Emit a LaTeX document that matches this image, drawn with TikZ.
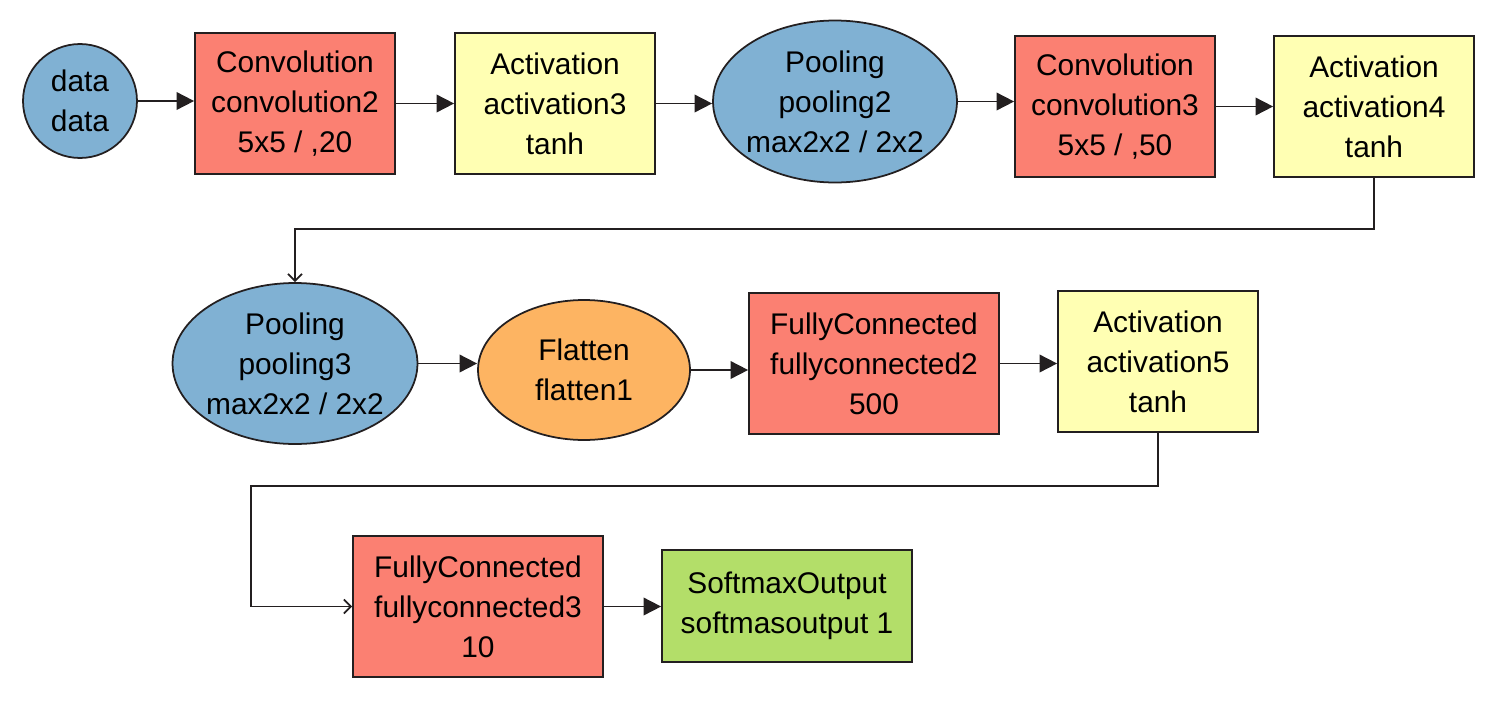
\documentclass[tikz,border=0pt]{standalone}
\usepackage{fontspec}
\setmainfont{Liberation Sans}
\usepackage{tikz}
\usetikzlibrary{shapes.geometric,arrows.meta}

\definecolor{convred}{HTML}{FB8072}
\definecolor{actyellow}{HTML}{FFFFB3}
\definecolor{poolblue}{HTML}{80B1D3}
\definecolor{flatorange}{HTML}{FDB462}
\definecolor{softgreen}{HTML}{B3DE69}
\definecolor{edgeblack}{HTML}{231F20}

\begin{document}
\begin{tikzpicture}[x=0.02cm,y=-0.02cm,
        layer/.style={draw=edgeblack,line width=1pt,align=center,inner sep=0pt,
            font=\fontsize{17}{22.7}\selectfont},
        convbox/.style={layer,shape=rectangle,fill=convred,minimum width=4.0cm,minimum height=2.82cm},
        actbox/.style={layer,shape=rectangle,fill=actyellow,minimum width=4.0cm,minimum height=2.82cm},
        poolnode/.style={layer,shape=ellipse,fill=poolblue,inner xsep=-10pt,minimum width=4.88cm,minimum height=3.24cm},
        flow/.style={draw=edgeblack,line width=1pt,-{Triangle[length=10pt,width=10pt]}},
        wrap/.style={draw=edgeblack,line width=1pt,-{Straight Barb[length=4pt,width=8pt]}}]

        \useasboundingbox (0,0) rectangle (1498,700);

        % first row
        \node[layer,shape=circle,fill=poolblue,minimum size=2.28cm] (data) at (80,101) {data\\data};
        \node[convbox] (conv2) at (295,103.5) {Convolution\\convolution2\\5x5 / ,20};
        \node[actbox] (act3) at (555,103.5) {Activation\\activation3\\tanh};
        \node[poolnode] (pool2) at (835,101.5) {Pooling\\pooling2\\max2x2 / 2x2};
        \node[convbox] (conv3) at (1115,106.5) {Convolution\\convolution3\\5x5 / ,50};
        \node[actbox] (act4) at (1374,106.5) {Activation\\activation4\\tanh};

        % second row
        \node[poolnode,minimum width=4.9cm,minimum height=3.22cm] (pool3) at (295,363.5) {Pooling\\pooling3\\max2x2 / 2x2};
        \node[layer,shape=ellipse,fill=flatorange,minimum width=4.24cm,minimum height=2.8cm] (flatten) at (584,370) {Flatten\\flatten1};
        \node[convbox,minimum width=5.0cm] (fc2) at (874,363.5) {FullyConnected\\fullyconnected2\\500};
        \node[actbox] (act5) at (1158,361.5) {Activation\\activation5\\tanh};

        % third row
        \node[convbox,minimum width=5.0cm] (fc3) at (478,606.5) {FullyConnected\\fullyconnected3\\10};
        \node[layer,shape=rectangle,fill=softgreen,minimum width=5.0cm,minimum height=2.24cm] (softmax) at (787,606) {SoftmaxOutput\\softmasoutput 1};

        \coordinate (turnA) at (295,229);
        \coordinate (turnB) at (251,486);

        \draw[flow] (data.east) -- (data.east -| conv2.west);
        \draw[flow] (conv2.east) -- (conv2.east -| act3.west);
        \draw[flow] (act3.east) -- (act3.east -| pool2.west);
        \draw[flow] (pool2.east) -- (pool2.east -| conv3.west);
        \draw[flow] (conv3.east) -- (conv3.east -| act4.west);
        \draw[wrap] (act4.south) |- (turnA) -- (pool3.north);
        \draw[flow] (pool3.east) -- (pool3.east -| flatten.west);
        \draw[flow] (flatten.east) -- (flatten.east -| fc2.west);
        \draw[flow] (fc2.east) -- (fc2.east -| act5.west);
        \draw[wrap] (act5.south) |- (turnB) |- (fc3.west);
        \draw[flow] (fc3.east) -- (fc3.east -| softmax.west);

    \end{tikzpicture}
\end{document}
